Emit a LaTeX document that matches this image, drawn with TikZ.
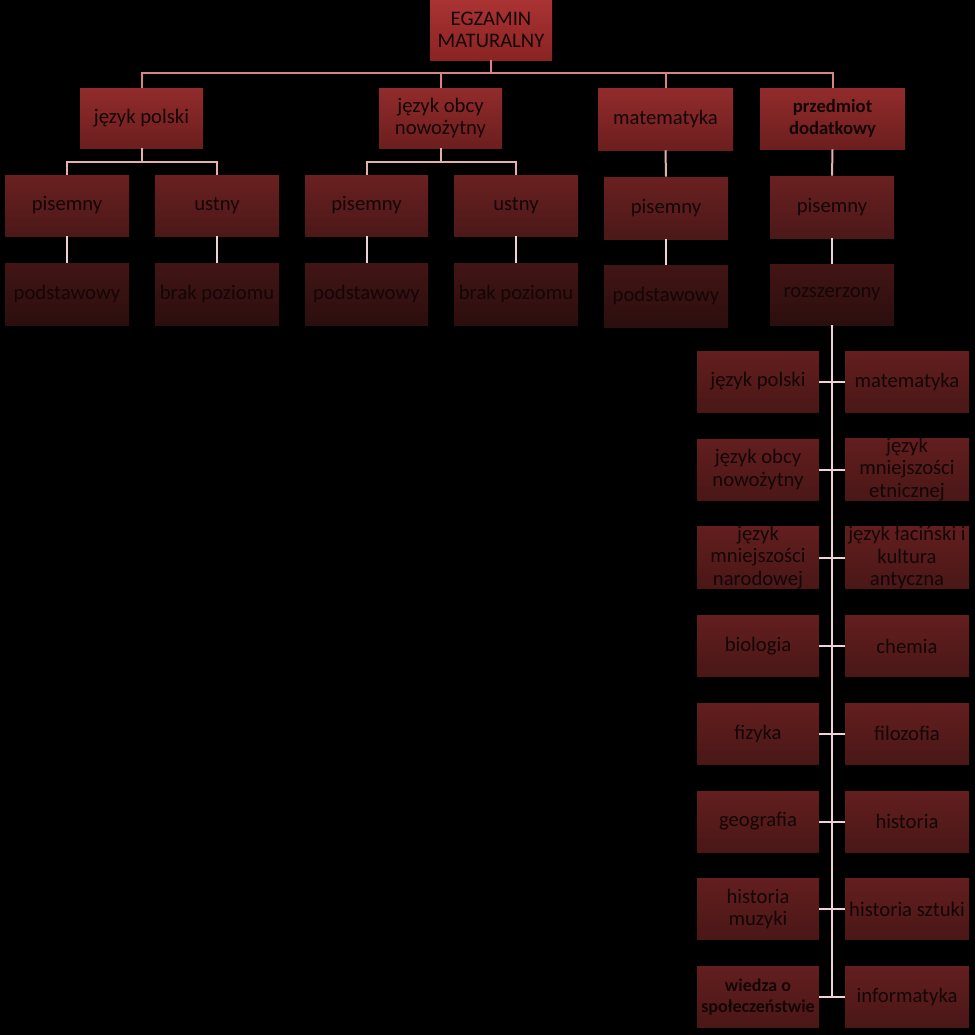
\documentclass[tikz,border=0pt]{standalone}
\usepackage{fontspec}
\setmainfont{Carlito}
\begin{document}
\begin{tikzpicture}[x=0.75pt,y=-0.75pt,
  box/.style={rectangle, inner sep=0pt, align=center, text=txt,
    font=\fontsize{15.5}{16.8}\selectfont},
  lvl0/.style={box, top color=l0t, bottom color=l0b},
  lvl1/.style={box, top color=l1t, bottom color=l1b},
  lvl2/.style={box, top color=l2t, bottom color=l2b},
  lvl3/.style={box, top color=l3t, bottom color=l3b},
  subj/.style={box, top color=sbt, bottom color=sbb, minimum height=45.75pt},
  subjl/.style={subj, minimum width=91.5pt},
  subjr/.style={subj, minimum width=93pt},
  conn0/.style={draw=c0, line width=1.5pt},
  conn1/.style={draw=c1, line width=1.5pt},
  conn2/.style={draw=c2, line width=1.5pt},
]
\definecolor{txt}{HTML}{140606}
\definecolor{l0t}{HTML}{AA3333}
\definecolor{l0b}{HTML}{8A2323}
\definecolor{l1t}{HTML}{922B2B}
\definecolor{l1b}{HTML}{6C1E1E}
\definecolor{l2t}{HTML}{6A2020}
\definecolor{l2b}{HTML}{4C1818}
\definecolor{l3t}{HTML}{421515}
\definecolor{l3b}{HTML}{2C0E0E}
\definecolor{sbt}{HTML}{631E1E}
\definecolor{sbb}{HTML}{4A1717}
\definecolor{c0}{HTML}{D88484}
\definecolor{c1}{HTML}{E4AFAF}
\definecolor{c2}{HTML}{EDD3D3}
\fill[black] (0,0) rectangle (975,1035);
\useasboundingbox (0,0) rectangle (975,1035);
% root
\node[lvl0, minimum width=91.5pt, minimum height=45pt] (root) at (491,30) {EGZAMIN\\MATURALNY};
% level 1
\node[lvl1, minimum width=92.25pt, minimum height=45pt] (jp) at (141.5,118) {język polski};
\node[lvl1, minimum width=92.25pt, minimum height=45pt] (jo) at (440.5,118) {język obcy\\nowożytny};
\node[lvl1, minimum width=101.25pt, minimum height=46.5pt] (mat) at (665.5,119) {matematyka};
\node[lvl1, minimum width=108.75pt, minimum height=45.75pt, font=\fontsize{14}{16}\selectfont\bfseries] (pd) at (832.5,118.5) {przedmiot\\dodatkowy};
% level 2
\node[lvl2, minimum width=93pt, minimum height=45.75pt] (p1) at (67,205.5) {pisemny};
\node[lvl2, minimum width=93pt, minimum height=45.75pt] (u1) at (217,205.5) {ustny};
\node[lvl2, minimum width=92.25pt, minimum height=45.75pt] (p2) at (366.5,205.5) {pisemny};
\node[lvl2, minimum width=93pt, minimum height=45.75pt] (u2) at (516,205.5) {ustny};
\node[lvl2, minimum width=93pt, minimum height=46.5pt] (p3) at (666,208) {pisemny};
\node[lvl2, minimum width=93pt, minimum height=46.5pt] (p4) at (832,207) {pisemny};
% level 3
\node[lvl3, minimum width=93pt, minimum height=46.5pt] (s1) at (67,294) {podstawowy};
\node[lvl3, minimum width=93pt, minimum height=46.5pt] (b1) at (217,294) {brak poziomu};
\node[lvl3, minimum width=92.25pt, minimum height=46.5pt] (s2) at (366.5,294) {podstawowy};
\node[lvl3, minimum width=93pt, minimum height=46.5pt] (b2) at (516,294) {brak poziomu};
\node[lvl3, minimum width=93pt, minimum height=46.5pt] (s3) at (666,296) {podstawowy};
\node[lvl3, minimum width=93pt, minimum height=45.75pt] (r) at (832,294.5) {rozszerzony};
% subjects
\node[subjl] (a1) at (758,381.5) {język polski};
\node[subjr] (b1r) at (907,381.5) {matematyka};
\node[subjl] (a2) at (758,469.5) {język obcy\\nowożytny};
\node[subjr] (b2r) at (907,469.5) {język\\mniejszości\\etnicznej};
\node[subjl] (a3) at (758,557.5) {język\\mniejszości\\narodowej};
\node[subjr] (b3r) at (907,557.5) {język łaciński i\\kultura\\antyczna};
\node[subjl] (a4) at (758,646) {biologia};
\node[subjr] (b4r) at (907,646) {chemia};
\node[subjl] (a5) at (758,733.5) {fizyka};
\node[subjr] (b5r) at (907,733.5) {filozofia};
\node[subjl] (a6) at (758,821.5) {geografia};
\node[subjr] (b6r) at (907,821.5) {historia};
\node[subjl] (a7) at (758,909) {historia\\muzyki};
\node[subjr] (b7r) at (907,909) {historia sztuki};
\node[subjl, font=\fontsize{13.5}{16}\selectfont\bfseries] (a8) at (758,997) {wiedza o\\społeczeństwie};
\node[subjr] (b8r) at (907,997) {informatyka};
% connectors level 0
\coordinate (bar0) at (491,73);
\draw[conn0] (root.south) -- (bar0);
\draw[conn0] (jp.north) |- (bar0) -| (pd.north);
\draw[conn0] (jo.north) -- (jo.north |- bar0);
\draw[conn0] (mat.north) -- (mat.north |- bar0);
% connectors level 1
\coordinate (bar1) at (141.5,162);
\coordinate (bar2) at (440.5,162);
\draw[conn1] (jp.south) -- (bar1);
\draw[conn1] (p1.north) |- (bar1) -| (u1.north);
\draw[conn1] (jo.south) -- (bar2);
\draw[conn1] (p2.north) |- (bar2) -| (u2.north);
\draw[conn1] (mat.south) -- (p3.north);
\draw[conn1] (pd.south) -- (p4.north);
% connectors level 2
\draw[conn2] (p1.south) -- (s1.north);
\draw[conn2] (u1.south) -- (b1.north);
\draw[conn2] (p2.south) -- (s2.north);
\draw[conn2] (u2.south) -- (b2.north);
\draw[conn2] (p3.south) -- (s3.north);
\draw[conn2] (p4.south) -- (r.north);
% spine
\coordinate (spineend) at (832,997);
\draw[conn2] (r.south) -- (spineend);
\foreach \i/\j in {a1/b1r,a2/b2r,a3/b3r,a4/b4r,a5/b5r,a6/b6r,a7/b7r,a8/b8r}
  \draw[conn2] (\i.east) -- (\j.west);
\end{tikzpicture}
\end{document}
